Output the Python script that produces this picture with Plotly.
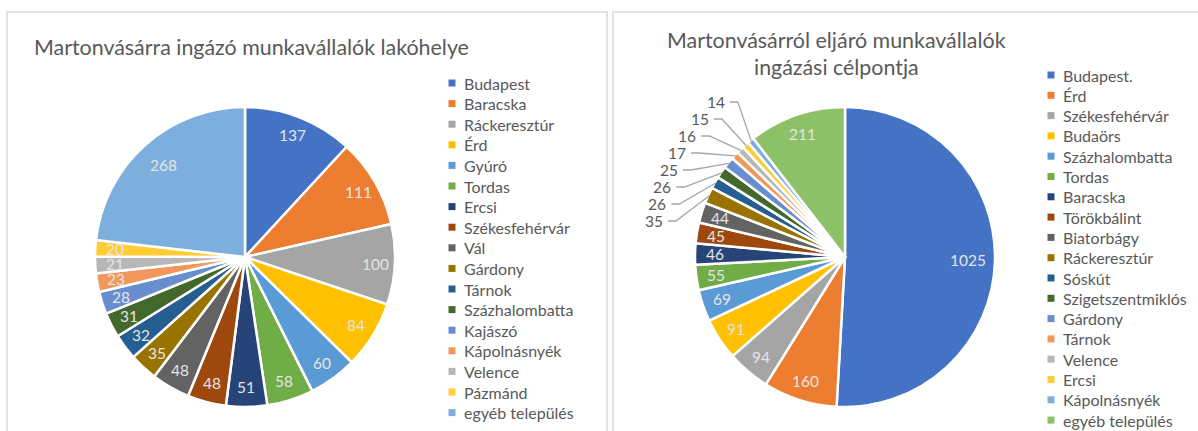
import math
import plotly.graph_objects as go

W, H = 1198, 431
FONT = "Lato"
TEXT_GREY = "#595959"
SLICE_TEXT = "#E4E4E4"

# ---- data -------------------------------------------------------------
in_title = "Martonvásárra ingázó munkavállalók lakóhelye"
in_places = ["Budapest", "Baracska", "Ráckeresztúr", "Érd", "Gyúró", "Tordas",
             "Ercsi", "Székesfehérvár", "Vál", "Gárdony", "Tárnok",
             "Százhalombatta", "Kajászó", "Kápolnásnyék", "Velence", "Pázmánd",
             "egyéb település"]
in_counts = [137, 111, 100, 84, 60, 58, 51, 48, 48, 35, 32, 31, 28, 23, 21, 20, 268]

out_title_lines = ["Martonvásárról eljáró munkavállalók", "ingázási célpontja"]
out_places = ["Budapest.", "Érd", "Székesfehérvár", "Budaörs", "Százhalombatta",
              "Tordas", "Baracska", "Törökbálint", "Biatorbágy", "Ráckeresztúr",
              "Sóskút", "Szigetszentmiklós", "Gárdony", "Tárnok", "Velence",
              "Ercsi", "Kápolnásnyék", "egyéb település"]
out_counts = [1025, 160, 94, 91, 69, 55, 46, 45, 44, 35, 26, 26, 25, 17, 16, 15, 14, 211]

palette = ["#4472C4", "#ED7D31", "#A5A5A5", "#FFC000", "#5B9BD5", "#70AD47",
           "#264478", "#9E480E", "#636363", "#997300", "#255E91", "#43682B",
           "#698ED0", "#F1975A", "#B7B7B7", "#FFCD33", "#7CAFDD", "#8CC168"]

# ---- geometry (pixel space of the hidden overlay axes) -----------------
R = 150
LEFT_C = (245, 257)
RIGHT_C = (845, 257)


def pie_domain(c):
    cx, cy = c
    return dict(x=[(cx - R) / W, (cx + R) / W], y=[1 - (cy + R) / H, 1 - (cy - R) / H])


def mid_angles(vals):
    total = sum(vals)
    acc, out = 0, []
    for v in vals:
        out.append((acc + v / 2) / total * 2 * math.pi)
        acc += v
    return out


def polar(c, r, a):
    return c[0] + r * math.sin(a), c[1] - r * math.cos(a)


fig = go.Figure()

for places, counts, c in [(in_places, in_counts, LEFT_C), (out_places, out_counts, RIGHT_C)]:
    fig.add_trace(go.Pie(
        labels=places, values=counts, sort=False, direction="clockwise", rotation=0,
        marker=dict(colors=palette[:len(counts)], line=dict(color="white", width=2.5)),
        textinfo="none", hoverinfo="skip", showlegend=False, domain=pie_domain(c),
    ))

annotations = []
shapes = []


def slice_labels(counts, c, outside_limit=None):
    total = sum(counts)
    angles = mid_angles(counts)
    outside = []
    for i, (v, a) in enumerate(zip(counts, angles)):
        if outside_limit is not None and v <= outside_limit:
            outside.append(i)
            continue
        frac = 0.82 if v / total > 0.2 else 0.87
        x, y = polar(c, R * frac, a)
        annotations.append(dict(x=x, y=y, text=str(v), showarrow=False,
                                font=dict(family=FONT, size=15.5, color=SLICE_TEXT)))
    # small slices: stacked labels on the left with leader lines
    outside.sort(key=lambda i: -angles[i])
    ax, by = 192, 207
    for k, i in enumerate(outside):
        ly = 102 + 17 * k
        dy = ly - c[1]
        lx = c[0] - ax * math.sqrt(max(0.0, 1 - (dy / by) ** 2))
        right = lx + 9
        annotations.append(dict(x=right, y=ly, xanchor="right", text=str(counts[i]),
                                showarrow=False,
                                font=dict(family=FONT, size=15.5, color=TEXT_GREY)))
        px, py = polar(c, R - 1, angles[i])
        shapes.append(dict(type="path", xref="x", yref="y",
                           path=f"M{right + 3},{ly} L{right + 11},{ly} L{px},{py}",
                           line=dict(color="#A6A6A6", width=1.3)))


slice_labels(in_counts, LEFT_C)
slice_labels(out_counts, RIGHT_C, outside_limit=35)

# ---- legends --------------------------------------------------------------
for places, mx, y0, step in [(in_places, 452, 83, 20.6), (out_places, 1051, 75, 20.3)]:
    ys = [y0 + step * i for i in range(len(places))]
    fig.add_trace(go.Scatter(
        x=[mx] * len(places), y=ys, mode="markers", hoverinfo="skip", showlegend=False,
        marker=dict(symbol="square", size=7, color=palette[:len(places)]),
    ))
    for name, y in zip(places, ys):
        annotations.append(dict(x=mx + 10, y=y, xanchor="left", text=name, showarrow=False,
                                font=dict(family=FONT, size=16, color=TEXT_GREY)))

# ---- titles -------------------------------------------------------------
title_font = dict(family=FONT, size=21.4, color=TEXT_GREY)
annotations.append(dict(x=251, y=47, text=in_title, showarrow=False, font=title_font))
annotations.append(dict(x=836, y=40, text=out_title_lines[0], showarrow=False, font=title_font))
annotations.append(dict(x=836, y=67, text=out_title_lines[1], showarrow=False, font=title_font))

# ---- chart frames -----------------------------------------------------------
for x0, x1 in [(7, 607), (613, 1205)]:
    shapes.append(dict(type="rect", xref="x", yref="y", x0=x0, x1=x1, y0=12, y1=445,
                       line=dict(color="#D9D9D9", width=1.5), layer="below"))

for a in annotations:
    a.setdefault("xref", "x")
    a.setdefault("yref", "y")

fig.update_layout(
    width=W, height=H, margin=dict(l=0, r=0, t=0, b=0),
    paper_bgcolor="white", plot_bgcolor="rgba(0,0,0,0)",
    xaxis=dict(range=[0, W], visible=False, fixedrange=True),
    yaxis=dict(range=[H, 0], visible=False, fixedrange=True),
    annotations=annotations, shapes=shapes, showlegend=False,
)

fig.write_html("out.html")
